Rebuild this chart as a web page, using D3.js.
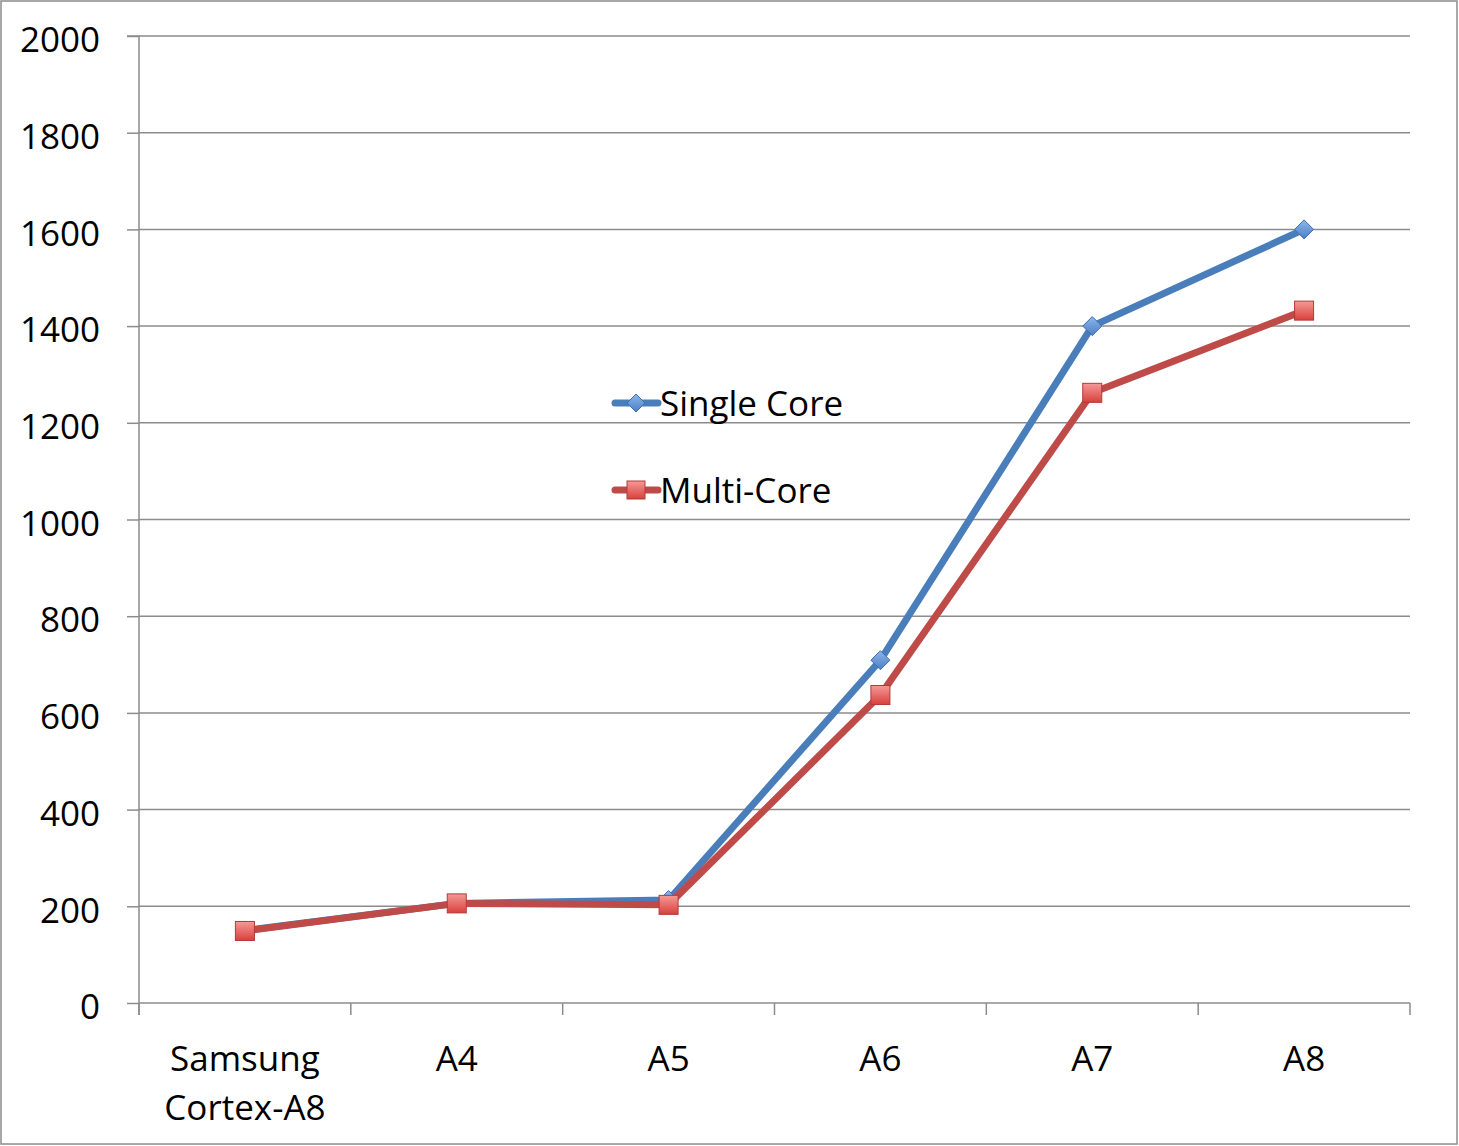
<!DOCTYPE html>
<html>
<head>
<meta charset="utf-8">
<script src="https://cdn.jsdelivr.net/npm/d3@7"></script>
<style>
  body { margin: 0; background: #fff; }
  text { font-family: "Open Sans", "Liberation Sans", sans-serif; fill: #000; }
</style>
</head>
<body>
<svg id="chart"></svg>
<script>
// data
const categories = [["Samsung", "Cortex-A8"], ["A4"], ["A5"], ["A6"], ["A7"], ["A8"]];
const singleCore = [150, 206, 213, 709, 1400, 1600];
const multiCore = [149, 206, 203, 637, 1262, 1432];
const yTicks = [0, 200, 400, 600, 800, 1000, 1200, 1400, 1600, 1800, 2000];
const seriesNames = ["Single Core", "Multi-Core"];

const W = 1459, H = 1146;
const margin = { top: 36, left: 139, right: 49, bottom: 143 };
const width = W - margin.left - margin.right;
const height = H - margin.top - margin.bottom;
const fontSize = "35px";

const svg = d3.select("#chart").attr("width", W).attr("height", H);

// outer frame
svg.append("rect")
  .attr("x", 1).attr("y", 1).attr("width", W - 3).attr("height", H - 3)
  .attr("fill", "#fff").attr("stroke", "#8c8c8c").attr("stroke-width", 1.5);

const defs = svg.append("defs");
const gBlue = defs.append("linearGradient").attr("id", "gBlue").attr("x1", 0).attr("y1", 0).attr("x2", 0).attr("y2", 1);
gBlue.append("stop").attr("offset", "0%").attr("stop-color", "#8fb6ea");
gBlue.append("stop").attr("offset", "100%").attr("stop-color", "#4a7fc6");
const gRed = defs.append("linearGradient").attr("id", "gRed").attr("x1", 0).attr("y1", 0).attr("x2", 0).attr("y2", 1);
gRed.append("stop").attr("offset", "0%").attr("stop-color", "#f49a97");
gRed.append("stop").attr("offset", "100%").attr("stop-color", "#d9403c");

const chart = svg.append("g").attr("transform", `translate(${margin.left},${margin.top})`);

const xScale = d3.scaleBand().domain(d3.range(categories.length)).range([0, width]).padding(0);
const yScale = d3.scaleLinear().domain([0, 2000]).range([height, 0]);

// gridlines
chart.append("g")
  .selectAll("line").data(yTicks.filter(d => d > 0)).join("line")
  .attr("x1", 0).attr("x2", width)
  .attr("y1", d => yScale(d)).attr("y2", d => yScale(d))
  .attr("stroke", "#8c8c8c").attr("stroke-width", 1.5);

// y axis
const yAxis = d3.axisLeft(yScale).tickValues(yTicks).tickFormat(d3.format("d")).tickSize(12).tickPadding(27);
const yAxisG = chart.append("g").call(yAxis);
yAxisG.select(".domain").attr("stroke", "#8c8c8c").attr("stroke-width", 1.5)
  .attr("d", `M-12,0H0V${height + 12}`);
yAxisG.selectAll(".tick line").attr("stroke", "#8c8c8c").attr("stroke-width", 1.5);
yAxisG.selectAll(".tick text").style("font-size", fontSize).attr("dy", "0.45em")
  .style("font-family", "'Open Sans', sans-serif").attr("fill", "#000");

// x axis
chart.append("line")
  .attr("x1", 0).attr("x2", width).attr("y1", height).attr("y2", height)
  .attr("stroke", "#8c8c8c").attr("stroke-width", 1.5);
chart.append("g").selectAll("line").data(d3.range(categories.length + 1)).join("line")
  .attr("x1", d => d * xScale.bandwidth()).attr("x2", d => d * xScale.bandwidth())
  .attr("y1", height).attr("y2", height + 12)
  .attr("stroke", "#8c8c8c").attr("stroke-width", 1.5);

const xLabels = chart.append("g").selectAll("text").data(categories).join("text")
  .attr("x", (d, i) => xScale(i) + xScale.bandwidth() / 2)
  .attr("y", height + 68)
  .attr("text-anchor", "middle")
  .style("font-size", fontSize);
xLabels.selectAll("tspan").data(d => d).join("tspan")
  .attr("x", function() { return this.parentNode.getAttribute("x"); })
  .attr("dy", (d, i) => i === 0 ? 0 : 49)
  .text(d => d);

const cx = i => xScale(i) + xScale.bandwidth() / 2;
const line = d3.line().x((d, i) => cx(i)).y(d => yScale(d));

const diamond = (g, s) => g.append("path")
  .attr("d", `M0,${-s}L${s},0L0,${s}L${-s},0Z`)
  .attr("fill", "url(#gBlue)").attr("stroke", "#3c6fb0").attr("stroke-width", 1);
const square = (g, s) => g.append("rect")
  .attr("x", -s).attr("y", -s).attr("width", 2 * s).attr("height", 2 * s)
  .attr("fill", "url(#gRed)").attr("stroke", "#b33a36").attr("stroke-width", 1);

// single core
chart.append("path").datum(singleCore)
  .attr("d", line).attr("fill", "none")
  .attr("stroke", "#4a7ebb").attr("stroke-width", 7).attr("stroke-linejoin", "round");
chart.append("g").selectAll("g").data(singleCore).join("g")
  .attr("transform", (d, i) => `translate(${cx(i)},${yScale(d)})`)
  .each(function() { diamond(d3.select(this), 9.5); });

// multi core
chart.append("path").datum(multiCore)
  .attr("d", line).attr("fill", "none")
  .attr("stroke", "#be4b48").attr("stroke-width", 7).attr("stroke-linejoin", "round");
chart.append("g").selectAll("g").data(multiCore).join("g")
  .attr("transform", (d, i) => `translate(${cx(i)},${yScale(d)})`)
  .each(function() { square(d3.select(this), 9.5); });

// legend
const legend = svg.append("g");
const legColors = ["#4a7ebb", "#be4b48"];
seriesNames.forEach((name, i) => {
  const g = legend.append("g").attr("transform", `translate(615,${403 + i * 87})`);
  g.append("line").attr("x1", 0).attr("x2", 43).attr("y1", 0).attr("y2", 0)
    .attr("stroke", legColors[i]).attr("stroke-width", 7).attr("stroke-linecap", "round");
  const m = g.append("g").attr("transform", "translate(21,0)");
  if (i === 0) diamond(m, 9); else square(m, 9);
  g.append("text").attr("x", 45).attr("y", 0).attr("dy", "0.38em")
    .style("font-size", fontSize).text(name);
});
</script>
</body>
</html>
